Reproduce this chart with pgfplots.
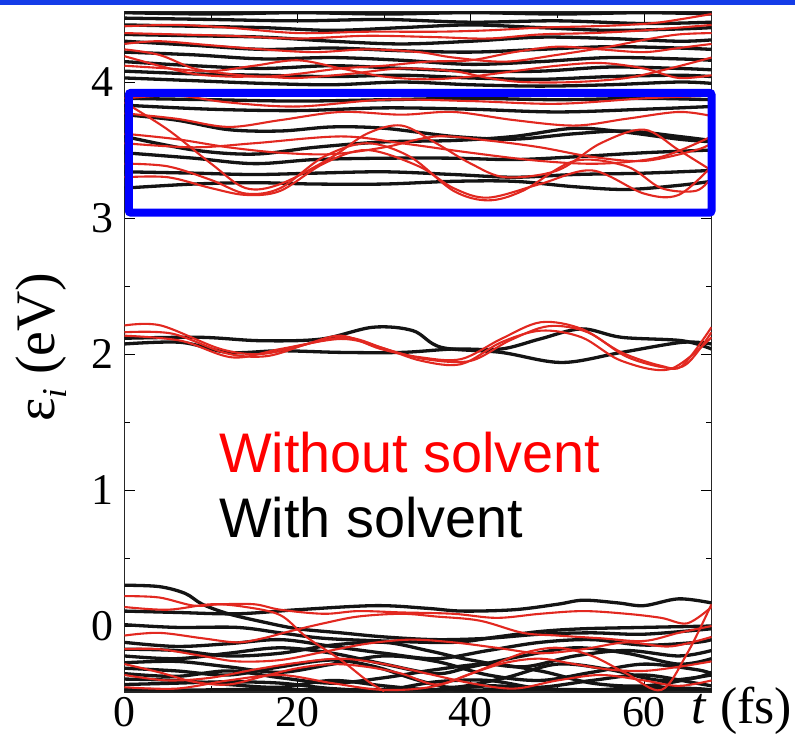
\documentclass[border=0pt]{standalone}
\usepackage{fontspec}
\setmainfont{Liberation Serif}
\setsansfont{Liberation Sans}
\usepackage{pgfplots}
\pgfplotsset{compat=1.18}
\definecolor{myred}{RGB}{226,40,32}
\definecolor{topblue}{RGB}{20,60,232}
\tikzset{blk/.style={black!92, line width=3.3bp, smooth, tension=0.55, line join=round},
         rd/.style={myred, line width=2.1bp, smooth, tension=0.55, line join=round}}
\begin{document}
\begin{tikzpicture}
\begin{axis}[
  at={(0,0)}, anchor=south west,
  scale only axis, width=587bp, height=680bp,
  xmin=0, xmax=67.8, ymin=-0.485, ymax=4.515,
  xtick={0,20,40,60}, ytick={0,1,2,3,4},
  minor x tick num=1, minor y tick num=1,
  major tick length=11bp, minor tick length=6bp,
  tick style={black, line width=0.9bp},
  axis line style={line width=1.3bp, black!85},
  ticklabel style={font=\fontsize{44}{44}\selectfont},
  /pgf/number format/assume math mode=true,
  xticklabel style={yshift=-2bp},
  yticklabel style={xshift=-8bp},
  no markers, clip mode=individual,
]
% ---------- with solvent (black), top band ----------
\addplot[blk] coordinates {(0,4.51)(10,4.50)(20,4.51)(30,4.50)(40,4.51)(50,4.50)(60,4.51)(67.8,4.50)};
\addplot[blk] coordinates {(0,4.47)(10,4.46)(20,4.45)(30,4.46)(40,4.44)(50,4.45)(60,4.43)(67.8,4.44)};
\addplot[blk] coordinates {(0,4.42)(8,4.41)(16,4.40)(24,4.38)(32,4.40)(40,4.42)(48,4.40)(56,4.38)(64,4.39)(67.8,4.40)};
\addplot[blk] coordinates {(0,4.35)(8,4.34)(16,4.33)(24,4.30)(32,4.28)(40,4.30)(48,4.33)(56,4.32)(64,4.30)(67.8,4.31)};
\addplot[blk] coordinates {(0,4.30)(8,4.27)(16,4.24)(24,4.25)(32,4.23)(40,4.22)(48,4.24)(56,4.26)(64,4.25)(67.8,4.24)};
\addplot[blk] coordinates {(0,4.22)(8,4.20)(16,4.17)(24,4.18)(32,4.16)(40,4.13)(48,4.15)(56,4.18)(64,4.17)(67.8,4.16)};
\addplot[blk] coordinates {(0,4.15)(8,4.12)(16,4.10)(24,4.12)(32,4.10)(40,4.08)(48,4.08)(56,4.11)(64,4.10)(67.8,4.09)};
\addplot[blk] coordinates {(0,4.08)(8,4.06)(16,4.05)(24,4.04)(32,4.05)(40,4.03)(48,4.02)(56,4.04)(64,4.05)(67.8,4.04)};
\addplot[blk] coordinates {(0,4.03)(8,4.01)(16,3.99)(24,3.98)(32,4.00)(40,3.98)(48,3.97)(56,3.98)(64,4.00)(67.8,3.99)};
% ---------- with solvent (black), box band ----------
\addplot[blk] coordinates {(0,3.88)(10,3.87)(20,3.86)(30,3.87)(40,3.88)(50,3.87)(60,3.88)(67.8,3.87)};
\addplot[blk] coordinates {(0,3.83)(10,3.80)(20,3.79)(30,3.81)(40,3.80)(50,3.78)(60,3.80)(67.8,3.82)};
\addplot[blk] coordinates {(0,3.76)(6,3.72)(12,3.65)(18,3.64)(24,3.67)(30,3.66)(38,3.60)(45,3.58)(52,3.62)(58,3.64)(64,3.60)(67.8,3.57)};
\addplot[blk] coordinates {(0,3.60)(8,3.50)(15,3.47)(22,3.52)(30,3.56)(38,3.57)(45,3.60)(52,3.66)(58,3.63)(64,3.58)(67.8,3.56)};
\addplot[blk] coordinates {(0,3.48)(8,3.44)(15,3.40)(22,3.43)(30,3.44)(38,3.44)(45,3.43)(52,3.45)(60,3.48)(67.8,3.50)};
\addplot[blk] coordinates {(0,3.34)(8,3.33)(15,3.32)(22,3.33)(30,3.34)(38,3.32)(45,3.30)(52,3.32)(60,3.33)(67.8,3.35)};
\addplot[blk] coordinates {(0,3.22)(8,3.25)(15,3.26)(22,3.25)(30,3.25)(38,3.27)(45,3.27)(52,3.23)(58,3.21)(64,3.24)(67.8,3.27)};
% ---------- with solvent (black), 2 eV ----------
\addplot[blk] coordinates {(0,2.116)(8.8,2.123)(15.7,2.098)(22.7,2.11)(28.7,2.197)(33.3,2.172)(36.6,2.049)(43.5,2.012)(50.5,1.938)(57.4,2.012)(64.4,2.086)(67.8,2.074)};
\addplot[blk] coordinates {(0,2.074)(6.5,2.086)(12,2.012)(18,2.024)(25,2.012)(32,2.012)(38,2.037)(43.5,2.037)(48,2.111)(52.8,2.185)(57.4,2.123)(64.4,2.098)(67.8,2.037)};
% ---------- with solvent (black), bottom band ----------
\addplot[blk] coordinates {(0,0.30)(4,0.29)(7,0.24)(9,0.16)(12,0.09)(16,0.03)(20,-0.02)(25,-0.05)(30,-0.08)(36,-0.10)(42,-0.09)(48,-0.06)(54,-0.05)(60,-0.06)(67.8,-0.02)};
\addplot[blk] coordinates {(0,0.11)(6,0.10)(13,0.09)(20,0.12)(29,0.15)(35,0.13)(39,0.11)(45,0.12)(50,0.16)(53,0.19)(57,0.17)(60,0.15)(64,0.20)(67.8,0.17)};
\addplot[blk] coordinates {(0,0.01)(6,-0.01)(13,-0.01)(18,-0.05)(23,-0.09)(30,-0.11)(38,-0.12)(43,-0.08)(48,-0.04)(53,-0.02)(60,-0.01)(67.8,0.0)};
\addplot[blk] coordinates {(0,-0.12)(6,-0.15)(12,-0.13)(18,-0.10)(24,-0.15)(30,-0.20)(36,-0.24)(42,-0.18)(48,-0.12)(54,-0.10)(60,-0.14)(66,-0.12)(67.8,-0.10)};
\addplot[blk] coordinates {(0,-0.17)(6,-0.18)(12,-0.22)(18,-0.20)(24,-0.14)(30,-0.12)(35,-0.18)(40,-0.25)(46,-0.30)(52,-0.22)(58,-0.18)(64,-0.22)(67.8,-0.18)};
\addplot[blk] coordinates {(0,-0.22)(6,-0.24)(12,-0.20)(18,-0.16)(24,-0.20)(30,-0.28)(36,-0.35)(40,-0.30)(46,-0.22)(52,-0.16)(58,-0.20)(64,-0.28)(67.8,-0.24)};
\addplot[blk] coordinates {(0,-0.27)(6,-0.26)(12,-0.30)(18,-0.34)(24,-0.28)(30,-0.22)(36,-0.26)(42,-0.36)(48,-0.40)(54,-0.34)(60,-0.28)(66,-0.32)(67.8,-0.35)};
\addplot[blk] coordinates {(0,-0.31)(6,-0.33)(12,-0.36)(18,-0.30)(24,-0.25)(29,-0.30)(34,-0.40)(38,-0.45)(44,-0.38)(50,-0.28)(56,-0.32)(62,-0.40)(67.8,-0.36)};
\addplot[blk] coordinates {(0,-0.35)(6,-0.37)(12,-0.33)(18,-0.38)(24,-0.42)(30,-0.38)(36,-0.32)(42,-0.28)(48,-0.33)(54,-0.42)(60,-0.44)(66,-0.38)(67.8,-0.34)};
\addplot[blk] coordinates {(0,-0.39)(6,-0.40)(12,-0.43)(18,-0.45)(24,-0.40)(30,-0.44)(36,-0.47)(42,-0.44)(48,-0.45)(54,-0.40)(60,-0.36)(66,-0.42)(67.8,-0.44)};
\addplot[blk] coordinates {(0,-0.43)(6,-0.42)(12,-0.41)(18,-0.42)(24,-0.46)(30,-0.47)(36,-0.41)(42,-0.40)(48,-0.46)(54,-0.47)(60,-0.45)(66,-0.46)(67.8,-0.47)};
\addplot[blk] coordinates {(0,-0.465)(8,-0.47)(16,-0.465)(24,-0.47)(32,-0.465)(40,-0.47)(48,-0.465)(56,-0.47)(64,-0.465)(67.8,-0.47)};
% ---------- without solvent (red), top band ----------
\addplot[rd] coordinates {(0,4.41)(6,4.42)(12,4.40)(20,4.36)(28,4.37)(36,4.37)(42,4.38)(48,4.40)(54,4.41)(58,4.42)(62,4.44)(67.8,4.50)};
\addplot[rd] coordinates {(0,4.36)(6,4.35)(12,4.34)(20,4.32)(28,4.34)(36,4.33)(42,4.32)(48,4.35)(54,4.36)(60,4.38)(67.8,4.42)};
\addplot[rd] coordinates {(0,4.28)(4,4.30)(10,4.27)(16,4.24)(22,4.22)(28,4.24)(34,4.22)(38,4.18)(44,4.15)(50,4.20)(56,4.26)(60,4.31)(64,4.35)(67.8,4.36)};
\addplot[rd] coordinates {(0,4.24)(4,4.20)(8,4.10)(12,4.06)(16,4.04)(20,4.06)(25,4.10)(30,4.12)(35,4.15)(40,4.16)(45,4.22)(50,4.26)(55,4.24)(60,4.22)(64,4.25)(67.8,4.28)};
\addplot[rd] coordinates {(0,4.19)(4,4.12)(8,4.06)(12,4.04)(16,4.04)(20,4.03)(26,4.06)(32,4.10)(38,4.08)(42,4.03)(46,4.00)(52,4.00)(58,4.03)(63,4.10)(67.8,4.18)};
\addplot[rd] coordinates {(0,4.12)(5,4.10)(10,4.08)(15,4.12)(20,4.16)(25,4.10)(30,4.04)(35,4.02)(40,4.04)(45,4.08)(50,4.12)(55,4.14)(60,4.10)(64,4.03)(67.8,4.05)};
% ---------- without solvent (red), box band ----------
\addplot[rd] coordinates {(0,3.88)(6,3.90)(12,3.85)(20,3.82)(30,3.87)(40,3.86)(50,3.84)(60,3.88)(67.8,3.90)};
\addplot[rd] coordinates {(0,3.77)(6,3.73)(12,3.67)(18,3.72)(25,3.78)(32,3.76)(38,3.78)(45,3.72)(52,3.68)(58,3.73)(64,3.78)(67.8,3.75)};
\addplot[rd] coordinates {(0,3.62)(6,3.58)(12,3.52)(18,3.48)(24,3.47)(30,3.52)(36,3.60)(42,3.57)(48,3.52)(54,3.45)(60,3.42)(66,3.50)(67.8,3.55)};
\addplot[rd] coordinates {(0,3.85)(5,3.65)(10,3.40)(14,3.22)(18,3.25)(24,3.45)(28,3.62)(32,3.68)(36,3.55)(40,3.40)(44,3.30)(50,3.35)(55,3.55)(60,3.65)(64,3.50)(67.8,3.35)};
\addplot[rd] coordinates {(0,3.40)(5,3.38)(10,3.28)(14,3.18)(18,3.22)(23,3.45)(28,3.55)(33,3.45)(38,3.20)(42,3.13)(46,3.20)(52,3.42)(58,3.38)(62,3.22)(66,3.20)(67.8,3.30)};
\addplot[rd] coordinates {(0,3.30)(5,3.30)(10,3.22)(14,3.17)(18,3.20)(23,3.40)(28,3.50)(34,3.38)(38,3.22)(42,3.15)(48,3.25)(54,3.35)(60,3.18)(64,3.17)(67.8,3.38)};
\addplot[rd] coordinates {(0,3.55)(8,3.52)(15,3.55)(25,3.60)(32,3.55)(40,3.48)(48,3.42)(55,3.40)(62,3.45)(67.8,3.60)};
% ---------- without solvent (red), 2 eV ----------
\addplot[rd] coordinates {(0,2.21)(4.2,2.21)(11.1,2.037)(15.7,2.0)(20.4,2.061)(25,2.135)(29.6,2.037)(34.3,1.975)(38.9,1.963)(43.5,2.111)(48.1,2.234)(52.8,2.185)(57.4,2.012)(62,1.913)(64.4,1.913)(67.8,2.197)};
\addplot[rd] coordinates {(0,2.135)(6.5,2.098)(12.5,1.975)(18,2.037)(25,2.111)(29.6,2.049)(34.3,1.95)(38.9,1.926)(43.5,2.086)(48.1,2.172)(52.8,2.123)(57.4,1.95)(63,1.889)(67.8,2.123)};
\addplot[rd] coordinates {(0,2.16)(5.5,2.15)(11.8,2.005)(16.5,1.985)(21.5,2.08)(26,2.12)(30.5,2.03)(35,1.96)(40,1.95)(44.5,2.10)(49,2.205)(53.5,2.16)(58,1.98)(62.5,1.90)(65,1.93)(67.8,2.16)};
% ---------- without solvent (red), bottom band ----------
\addplot[rd] coordinates {(0,0.22)(4,0.21)(8,0.15)(11,0.16)(15,0.16)(18,0.12)(23,0.09)(27,0.11)(32,0.10)(38,0.09)(43,0.06)(48,0.09)(53,0.11)(58,0.09)(62,0.06)(65,0.02)(67.8,0.14)};
\addplot[rd] coordinates {(0,-0.07)(4,-0.05)(9,-0.09)(13,-0.12)(16,-0.09)(19,-0.04)(23,0.02)(27,0.07)(32,0.09)(36,0.07)(41,0.04)(46,-0.05)(50,-0.07)(55,-0.09)(60,-0.11)(64,-0.05)(67.8,0.0)};
\addplot[rd] coordinates {(0,-0.17)(4,-0.17)(9,-0.22)(13,-0.26)(18,-0.25)(23,-0.19)(28,-0.13)(33,-0.10)(38,-0.12)(43,-0.16)(48,-0.20)(53,-0.17)(58,-0.12)(63,-0.15)(67.8,-0.08)};
\addplot[rd] coordinates {(0,0.14)(5,0.12)(10,0.16)(14,0.14)(18,0.08)(21,-0.08)(25,-0.25)(28,-0.40)(30,-0.48)};
\addplot[rd] coordinates {(0,-0.28)(4,-0.34)(8,-0.41)(12,-0.43)(16,-0.37)(20,-0.31)(24,-0.28)(28,-0.30)(32,-0.35)(36,-0.43)(40,-0.35)(44,-0.27)(48,-0.24)(52,-0.28)(56,-0.32)(60,-0.33)(64,-0.30)(67.8,-0.26)};
\addplot[rd] coordinates {(0,-0.36)(5,-0.40)(10,-0.38)(15,-0.32)(20,-0.27)(25,-0.24)(30,-0.28)(35,-0.35)(40,-0.42)(45,-0.46)(50,-0.40)(55,-0.36)(60,-0.40)(64,-0.44)(67.8,-0.40)};
\addplot[rd] coordinates {(0,-0.45)(6,-0.46)(12,-0.40)(18,-0.36)(24,-0.42)(30,-0.47)(36,-0.44)(42,-0.30)(46,-0.20)(50,-0.16)(54,-0.22)(58,-0.35)(62,-0.47)(65,-0.20)(67.8,0.16)};
% ---------- annotations ----------
\draw[blue, line width=8bp, rounded corners=2bp] (axis cs:0.5,3.04) rectangle (axis cs:67.8,3.92);
\node[anchor=base west, inner sep=0pt, text=red, font=\sffamily\fontsize{56}{56}\selectfont] at (axis cs:10.9,1.13) {Without solvent};
\node[anchor=base west, inner sep=0pt, text=black, font=\sffamily\fontsize{56}{56}\selectfont] at (axis cs:10.9,0.65) {With solvent};
\node[rotate=90, inner sep=0pt, font=\fontsize{56}{56}\selectfont] at (axis cs:-9.6,2.05) {ε\raisebox{-0.22em}{\fontsize{35}{35}\selectfont\textit{i}} (eV)};
\node[inner sep=0pt, font=\fontsize{52}{52}\selectfont] at (axis cs:71.3,-0.62) {\textit{t} (fs)};
\end{axis}
\fill[topblue] (-124.5bp,687bp) rectangle (670.5bp,692bp);
\pgfresetboundingbox
\path[use as bounding box] (-124.5bp,-46bp) rectangle (670.5bp,692bp);
\end{tikzpicture}
\end{document}
